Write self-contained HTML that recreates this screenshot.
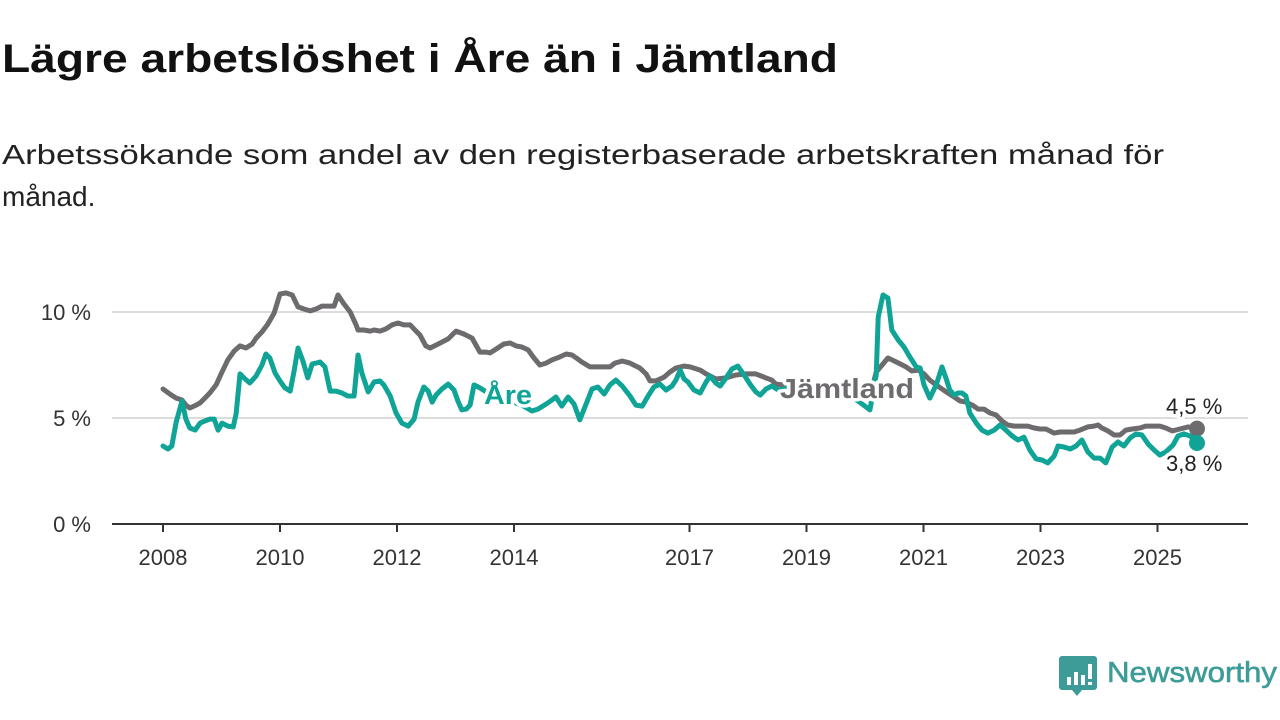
<!DOCTYPE html>
<html><head><meta charset="utf-8"><style>
html,body{margin:0;padding:0;background:#fff;}
svg{display:block;font-family:"Liberation Sans",sans-serif;}
</style></head><body>
<svg id="chart" width="1280" height="720" viewBox="0 0 1280 720">
<text x="2" y="72" font-size="40" font-weight="bold" fill="#111" textLength="836" lengthAdjust="spacingAndGlyphs">Lägre arbetslöshet i Åre än i Jämtland</text>
<text x="2" y="164" font-size="28" fill="#222" textLength="1162" lengthAdjust="spacingAndGlyphs">Arbetssökande som andel av den registerbaserade arbetskraften månad för</text>
<text x="2" y="206" font-size="28" fill="#222">månad.</text>
<g id="grid"></g>
<g id="series"></g>
<g id="labels"></g>
<g>
<path d="M1062,656 h32 a3,3 0 0 1 3,3 v28 a3,3 0 0 1 -3,3 h-12 l-5,6 l-5,-6 h-10 a3,3 0 0 1 -3,-3 v-28 a3,3 0 0 1 3,-3z" fill="#3e9c98"/>
<rect x="1067" y="677" width="4" height="8" fill="#fff"/><rect x="1074" y="672" width="4" height="13" fill="#fff"/><rect x="1081" y="675" width="4" height="10" fill="#fff"/><rect x="1088" y="664" width="4" height="15" fill="#fff"/><rect x="1088" y="682" width="4" height="3" fill="#fff"/>
<text x="1107" y="682" font-size="29" fill="#3e9c98" stroke="#3e9c98" stroke-width="0.6" textLength="170" lengthAdjust="spacingAndGlyphs">Newsworthy</text>
</g>
</svg>
<script>
// months since Jan 2008
const jamMonths=[0,1.4,2.7,3.9,4.7,5.5,6.8,7.6,8.6,9.6,10.9,12.1,13.3,14.6,15.8,17.0,18.3,19.1,20.3,21.5,22.8,24.0,25.2,26.5,27.7,28.9,30.2,31.4,32.6,33.8,35.1,35.9,37.1,38.4,39.6,40.0,41.2,42.5,43.3,44.5,45.7,47.0,48.2,49.4,50.7,51.9,52.7,53.9,54.8,56.0,57.2,58.5,60.1,61.7,63.4,64.2,65.0,66.3,67.1,68.3,69.9,71.2,72.4,73.6,74.9,76.1,77.3,78.6,79.8,81.4,82.7,83.9,85.1,85.9,87.6,89.6,91.7,92.7,94.2,95.8,97.0,97.8,99.1,99.9,101.1,102.8,104.0,105.2,106.9,108.1,110.2,111.4,113.4,115.5,117.5,119.6,121.6,123.7,124.9,125.7,127.0,130.7,134.8,138.9,143.0,145.0,146.3,147.5,148.7,150.0,151.2,152.4,153.6,154.9,156.1,157.3,158.6,159.8,161.0,162.3,163.5,164.7,166.0,167.2,168.4,169.6,170.9,172.1,173.3,174.6,175.8,177.4,178.7,179.9,181.1,182.8,184.0,185.2,186.9,188.1,189.7,191.0,191.8,192.6,193.8,195.1,196.3,197.5,198.8,200.4,201.6,202.9,204.5,205.7,207.0,208.6,210.3,212.1];
const jamValues=[6.37,6.13,5.94,5.85,5.61,5.47,5.61,5.71,5.94,6.18,6.56,7.17,7.74,8.16,8.40,8.30,8.49,8.77,9.06,9.43,9.95,10.85,10.90,10.80,10.24,10.14,10.05,10.14,10.28,10.28,10.28,10.80,10.38,10.0,9.39,9.15,9.15,9.10,9.15,9.10,9.20,9.39,9.48,9.39,9.39,9.10,8.92,8.40,8.30,8.44,8.58,8.73,9.10,8.96,8.77,8.44,8.11,8.11,8.07,8.25,8.49,8.54,8.40,8.35,8.21,7.83,7.50,7.59,7.74,7.88,8.02,7.97,7.78,7.64,7.41,7.41,7.41,7.59,7.69,7.59,7.45,7.36,7.08,6.75,6.75,6.93,7.17,7.36,7.45,7.41,7.26,7.08,6.84,6.89,7.03,7.08,7.08,6.89,6.79,6.60,6.56,6.5,6.4,6.3,6.1,6.0,7.17,7.50,7.83,7.69,7.55,7.41,7.22,7.26,7.08,6.79,6.56,6.37,6.18,5.99,5.80,5.75,5.61,5.42,5.42,5.24,5.14,4.86,4.67,4.62,4.62,4.62,4.53,4.48,4.48,4.29,4.34,4.34,4.34,4.43,4.58,4.62,4.67,4.53,4.39,4.20,4.20,4.43,4.48,4.53,4.62,4.62,4.62,4.53,4.39,4.48,4.58,4.5];
const areMonths=[0,1.0,1.8,2.7,3.9,4.7,5.5,6.6,7.6,8.6,9.6,10.5,11.3,12.1,13.3,14.4,15.0,15.8,16.6,17.8,19.1,20.3,21.1,21.9,23.0,24.0,25.0,26.1,26.9,27.7,28.7,29.7,30.6,31.4,32.2,33.2,34.3,35.5,36.7,37.9,39.2,40.0,40.8,42.1,43.3,44.5,45.3,46.6,47.8,49.0,50.3,51.5,52.3,53.5,54.4,55.2,56.0,57.2,58.5,59.7,60.5,61.3,62.2,63.0,63.8,65.0,66.3,68.3,71.2,73.6,75.7,76.9,78.6,79.8,80.6,81.8,83.1,84.3,85.5,86.8,88.0,89.2,90.5,91.7,92.9,94.2,95.8,97.0,98.3,99.5,100.7,101.9,103.2,104.4,105.2,106.1,106.9,107.7,108.9,110.2,111.4,112.2,113.4,114.3,115.5,116.7,117.9,119.2,120.4,121.6,122.5,123.7,124.9,126.2,128.6,132.7,136.8,140.9,143.4,145.0,146.3,146.7,147.7,148.7,149.5,150.8,152.0,153.2,154.5,155.3,156.1,157.3,158.6,159.8,160.6,161.4,162.3,163.1,163.9,164.7,165.5,166.8,168.0,169.2,170.5,171.7,172.9,174.2,175.4,176.6,177.8,179.1,180.3,181.5,182.8,183.6,184.8,186.1,187.3,188.5,189.7,191.0,192.2,193.4,194.7,195.9,197.1,198.4,199.6,200.8,202.1,203.3,204.5,205.7,207.2,208.2,209.4,210.7,212.1];
const areValues=[3.68,3.54,3.68,4.81,5.80,4.95,4.53,4.43,4.76,4.86,4.95,4.95,4.43,4.76,4.62,4.58,5.19,7.08,6.89,6.65,6.98,7.50,8.02,7.83,7.12,6.75,6.42,6.27,7.22,8.30,7.69,6.89,7.55,7.59,7.64,7.41,6.27,6.27,6.18,6.04,6.04,7.97,7.12,6.23,6.70,6.75,6.56,6.04,5.24,4.76,4.62,4.95,5.75,6.46,6.27,5.75,6.08,6.37,6.60,6.32,5.80,5.38,5.42,5.61,6.56,6.42,6.23,5.99,5.80,5.61,5.33,5.42,5.66,5.85,5.99,5.56,5.99,5.66,4.91,5.66,6.37,6.46,6.13,6.56,6.79,6.51,6.04,5.61,5.56,6.04,6.46,6.60,6.32,6.51,6.79,7.26,6.84,6.70,6.32,6.18,6.70,6.98,6.65,6.51,6.89,7.31,7.45,7.03,6.60,6.23,6.08,6.37,6.51,6.32,6.42,6.23,6.37,6.08,5.66,5.38,7.03,9.76,10.80,10.66,9.15,8.68,8.35,7.88,7.41,7.36,6.56,5.94,6.56,7.41,6.89,6.32,6.08,6.18,6.18,6.04,5.24,4.76,4.43,4.29,4.43,4.67,4.43,4.15,3.96,4.10,3.49,3.07,3.02,2.88,3.21,3.68,3.63,3.54,3.68,3.96,3.40,3.11,3.11,2.88,3.63,3.87,3.68,4.06,4.25,4.20,3.77,3.49,3.25,3.40,3.73,4.15,4.25,4.15,3.82];
const yTicks=[0,5,10];
const yTickLabels=["0 %","5 %","10 %"];
const xTickYears=[2008,2010,2012,2014,2017,2019,2021,2023,2025];
const lastLabels=["4,5 %","3,8 %"];

const NS="http://www.w3.org/2000/svg";
const X0=163,PXM=4.875,Y0=524,PXV=21.2;
const xScale=m=>X0+m*PXM;
const yScale=v=>Y0-v*PXV;
function mk(tag,attrs,parent){const e=document.createElementNS(NS,tag);for(const k in attrs)e.setAttribute(k,attrs[k]);parent.appendChild(e);return e;}
const grid=document.getElementById('grid');
yTicks.forEach((t,i)=>{
  if(t>0){const l=mk('line',{x1:112,x2:1248,y1:yScale(t),y2:yScale(t),stroke:'#dcdcdc','stroke-width':2},grid);
  
  }
  const tx=mk('text',{x:91,y:yScale(t)+8,'font-size':22,fill:'#333','text-anchor':'end'},grid);
  tx.textContent=yTickLabels[i];
  
  
});
const ax=mk('line',{x1:112,x2:1248,y1:Y0,y2:Y0,stroke:'#333','stroke-width':2},grid);


xTickYears.forEach(yr=>{
  const x=xScale((yr-2008)*12);
  const tk=mk('line',{x1:x,x2:x,y1:Y0,y2:Y0+8,stroke:'#333','stroke-width':2},grid);
  
  
  const tx=mk('text',{x:x,y:565,'font-size':22,fill:'#333','text-anchor':'middle'},grid);
  tx.textContent=yr;
  
  
});
const ser=document.getElementById('series');
function line(ms,vs,color,name){
  const d=ms.map((m,i)=>(i?'L':'M')+xScale(m).toFixed(1)+','+yScale(vs[i]).toFixed(1)).join('');
  const p=mk('path',{d:d,fill:'none',stroke:color,'stroke-width':5,'stroke-linejoin':'round','stroke-linecap':'round'},ser);
  
  
  const c=mk('circle',{cx:xScale(ms[ms.length-1]),cy:yScale(vs[vs.length-1]),r:8,fill:color},ser);
  
  
}
line(jamMonths,jamValues,'#6d6b6e','jamtland-line');
line(areMonths,areValues,'#10a497','are-line');
const lab=document.getElementById('labels');
function label(x,y,txt,color,size,bold,name,len){
  const a={x:x,y:y,'font-size':size,fill:color,'font-weight':bold?'bold':'normal',stroke:'#fff','stroke-width':7,'paint-order':'stroke','stroke-linejoin':'round'};
  if(len){a.textLength=len;a.lengthAdjust='spacingAndGlyphs';}
  const t=mk('text',a,lab);
  t.textContent=txt;
  
  
}
label(484,404,'Åre','#10a497',27,true,'are-series-label',48);
label(780,398,'Jämtland','#6d6b6e',28,true,'jamtland-series-label',134);
label(1166,414,lastLabels[0],'#222',22,false,'jamtland-last-value');
label(1166,471,lastLabels[1],'#222',22,false,'are-last-value');
</script>
</body></html>
